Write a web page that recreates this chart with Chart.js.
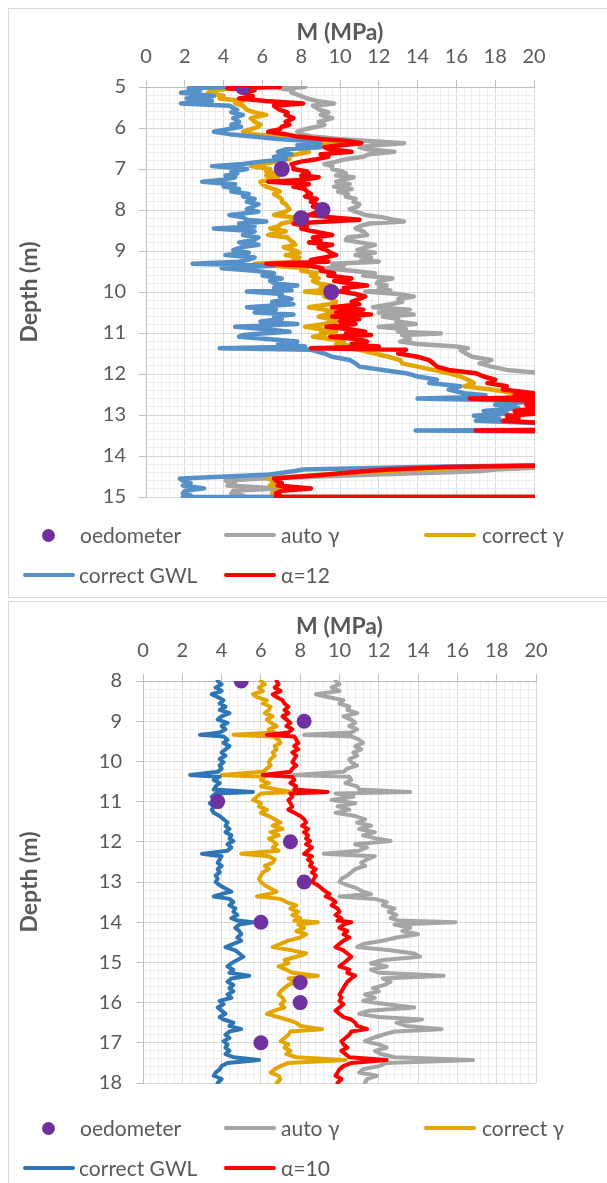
<!DOCTYPE html>
<html>
<head>
<meta charset="utf-8">
<script src="https://cdn.jsdelivr.net/npm/chart.js@4.4.1/dist/chart.umd.min.js"></script>
<style>
  body { margin: 0; background: #fff; width: 607px; height: 1183px; overflow: hidden; position: relative;
         font-family: Lato, "Open Sans", sans-serif; color: #595959; }
  .panel { position: absolute; border: 1px solid #d9d9d9; box-sizing: border-box; background: #fff; }
  canvas { position: absolute; }
  .lg-line { position: absolute; height: 4px; border-radius: 2px; }
  .lg-dot { position: absolute; width: 13px; height: 13px; border-radius: 50%; background: #7030a0; }
  .lg-text { position: absolute; font-size: 21px; line-height: 24px; white-space: nowrap; color: #595959; }
</style>
</head>
<body>
<div class="panel" style="left:8px; top:8px; width:610px; height:590px;"></div>
<div class="panel" style="left:8px; top:601px; width:610px; height:600px;"></div>
<canvas id="topChart" width="598" height="588" style="left:9px; top:9px;"></canvas>
<canvas id="bottomChart" width="598" height="581" style="left:9px; top:602px;"></canvas>
<script>
// ---- top chart (depth 5-15 m), alpha = 12 ----
const topDepth = [
  5.00, 5.03, 5.08, 5.14, 5.22, 5.28, 5.34, 5.40, 5.46, 5.56,
  5.62, 5.68, 5.76, 5.85, 5.92, 5.97, 6.03, 6.09, 6.15, 6.21,
  6.27, 6.32, 6.37, 6.42, 6.47, 6.52, 6.58, 6.64, 6.70, 6.76,
  6.82, 6.88, 6.93, 7.00, 7.06, 7.11, 7.16, 7.20, 7.26, 7.31,
  7.37, 7.43, 7.49, 7.55, 7.61, 7.67, 7.73, 7.80, 7.86, 7.92,
  7.98, 8.04, 8.12, 8.18, 8.24, 8.28, 8.33, 8.40, 8.45, 8.52,
  8.61, 8.67, 8.73, 8.79, 8.85, 8.91, 8.98, 9.04, 9.10, 9.16,
  9.22, 9.26, 9.31, 9.36, 9.42, 9.48, 9.54, 9.60, 9.67, 9.73,
  9.79, 9.84, 9.90, 9.96, 9.99, 10.05, 10.11, 10.17, 10.24, 10.30,
  10.37, 10.43, 10.50, 10.55, 10.60, 10.66, 10.72, 10.78, 10.85, 10.91,
  10.97, 11.01, 11.05, 11.09, 11.15, 11.21, 11.27, 11.33, 11.37, 11.41,
  11.50, 11.58, 11.66, 11.74, 11.82, 11.90, 11.98, 12.06, 12.14, 12.22,
  12.30, 12.38, 12.47, 12.52, 12.57, 12.60, 12.66, 12.75, 12.83, 12.90,
  12.96, 13.02, 13.08, 13.14, 13.20, 13.36, 13.38, 13.40, 13.80, 14.22,
  14.27, 14.33, 14.37, 14.46, 14.55, 14.60, 14.66, 14.72, 14.79, 14.85,
  14.91, 14.96, 15.00, 15.00
];
const topAutoGamma = [
  8.2, 6.9, 7.6, 7.5, 8.0, 8.3, 8.8, 9.7, 8.6, 9.0,
  9.4, 9.0, 9.6, 8.9, 9.2, 8.8, 8.2, 7.8, 8.0, 8.6,
  9.9, 11.5, 13.3, 11.8, 11.0, 11.4, 12.8, 11.5, 11.2, 10.3,
  9.8, 9.2, 9.6, 9.6, 10.1, 10.3, 9.8, 10.7, 10.2, 9.8,
  10.5, 9.7, 10.6, 9.9, 10.4, 10.3, 10.8, 10.7, 11.0, 10.9,
  10.5, 10.8, 11.3, 12.2, 12.8, 13.3, 11.5, 11.0, 10.8, 11.2,
  11.4, 10.4, 10.3, 11.0, 11.8, 11.3, 10.9, 11.8, 10.8, 11.6,
  11.1, 12.0, 9.6, 10.2, 9.3, 10.6, 11.8, 11.2, 12.7, 12.0,
  11.9, 12.4, 12.0, 12.6, 11.3, 13.0, 13.8, 13.0, 13.2, 12.6,
  11.7, 13.6, 12.0, 13.8, 12.2, 13.0, 12.9, 13.9, 12.0, 13.4,
  13.0, 15.2, 13.2, 13.4, 13.6, 13.1, 14.0, 16.0, 16.6, 16.2,
  16.5, 16.8, 17.8, 17.2, 17.8, 18.6, 20.5, 21.0, 22.0, 22.0,
  23.0, 23.0, 24.0, 24.0, 24.0, 24.0, 24.0, 24.0, 24.0, 24.0,
  24.0, 24.0, 24.0, 24.0, 24.0, 25.0, 25.0, 25.0, 25.0, 22.0,
  21.0, 18.0, 17.2, 11.5, 6.0, 4.1, 4.6, 4.2, 6.8, 4.5,
  4.4, 5.0, 4.4, 25.0
];
const topCorrectGamma = [
  5.0, 4.4, 3.6, 3.2, 4.0, 3.8, 5.0, 4.6, 5.0, 5.2,
  5.6, 6.2, 5.4, 5.6, 5.9, 5.8, 5.4, 5.0, 5.5, 6.8,
  8.4, 9.5, 10.0, 9.0, 8.2, 8.0, 8.4, 7.8, 7.0, 7.4,
  6.8, 6.0, 5.4, 6.4, 6.2, 6.7, 6.2, 6.8, 6.4, 5.9,
  6.0, 6.2, 6.6, 6.9, 6.6, 6.8, 7.0, 7.0, 7.2, 7.3,
  7.4, 7.2, 6.6, 7.6, 7.5, 7.5, 7.0, 6.8, 6.4, 7.2,
  6.3, 7.3, 7.4, 7.6, 7.7, 7.1, 7.6, 7.9, 7.2, 7.9,
  7.6, 7.9, 5.6, 6.6, 8.3, 8.0, 8.8, 8.5, 8.9, 8.6,
  8.9, 9.5, 9.0, 9.2, 8.2, 9.4, 9.2, 9.6, 9.8, 9.4,
  8.4, 9.2, 9.8, 9.3, 8.9, 9.5, 9.8, 9.2, 8.2, 9.0,
  9.8, 9.0, 9.2, 8.6, 9.6, 10.2, 9.8, 10.8, 10.5, 11.0,
  11.8, 12.5, 13.1, 13.2, 14.0, 14.8, 15.6, 16.2, 16.6, 16.9,
  16.4, 17.8, 19.0, 19.6, 18.6, 20.4, 21.0, 21.0, 21.0, 20.8,
  21.0, 20.6, 21.0, 20.8, 21.0, 23.0, 23.0, 23.0, 24.0, 22.0,
  17.0, 14.0, 12.0, 9.0, 6.3, 6.5, 6.6, 6.4, 8.2, 6.8,
  6.5, 6.7, 6.6, 25.0
];
const topCorrectGWL = [
  4.4, 2.2, 2.8, 1.8, 3.5, 2.1, 3.4, 1.8, 4.3, 4.7,
  4.4, 5.0, 4.5, 4.8, 4.4, 4.9, 4.2, 3.5, 4.3, 5.5,
  6.8, 8.5, 9.0, 7.8, 9.0, 7.2, 6.8, 7.5, 6.6, 7.2,
  5.9, 5.0, 3.4, 5.2, 4.4, 4.7, 4.1, 4.6, 4.0, 2.9,
  4.6, 4.0, 4.8, 4.4, 5.3, 5.0, 5.6, 5.2, 5.8, 5.5,
  5.2, 5.8, 4.3, 5.0, 5.2, 6.2, 4.8, 5.6, 3.5, 5.6,
  5.0, 5.8, 5.6, 4.8, 5.8, 4.9, 4.5, 5.3, 4.1, 5.6,
  5.2, 4.8, 2.4, 6.6, 3.9, 5.6, 6.6, 6.0, 7.0, 6.4,
  6.6, 7.8, 6.6, 7.5, 5.2, 7.0, 6.9, 7.5, 6.5, 7.6,
  5.2, 6.7, 5.6, 7.6, 6.6, 7.0, 5.9, 7.8, 4.6, 6.2,
  7.4, 6.0, 5.0, 4.8, 6.4, 7.8, 6.8, 8.2, 3.8, 8.5,
  9.2, 9.6, 10.5, 10.8, 11.0, 12.2, 13.4, 14.0, 15.0, 14.6,
  16.2, 15.6, 16.4, 17.5, 16.8, 14.0, 20.2, 18.0, 19.2, 17.4,
  18.6, 16.9, 18.2, 17.0, 20.4, 22.0, 13.9, 22.0, 24.0, 21.0,
  14.0, 8.1, 7.6, 6.2, 1.75, 1.9, 2.3, 1.9, 3.0, 2.0,
  1.9, 2.3, 1.9, 25.0
];
const topAlpha12 = [
  6.9, 4.2, 5.6, 5.0, 5.5, 4.8, 6.2, 8.1, 6.6, 6.9,
  7.3, 7.2, 7.6, 7.2, 7.4, 7.0, 6.9, 6.3, 7.2, 7.8,
  9.0, 10.5, 11.1, 10.0, 9.2, 9.5, 10.6, 9.0, 9.4, 8.8,
  8.0, 7.5, 7.6, 7.6, 8.3, 8.4, 8.0, 8.9, 8.2, 6.3,
  8.4, 7.6, 8.2, 8.3, 8.5, 8.2, 8.8, 8.5, 8.8, 8.6,
  9.0, 8.9, 8.4, 9.6, 11.0, 9.4, 7.6, 8.3, 8.0, 8.6,
  9.6, 8.6, 9.0, 8.4, 9.6, 8.9, 9.3, 9.5, 9.8, 9.2,
  8.5, 9.4, 6.2, 8.4, 9.1, 9.0, 9.7, 9.4, 10.6, 9.7,
  10.5, 11.4, 10.2, 10.4, 10.0, 10.8, 11.3, 11.0, 10.6, 11.0,
  9.6, 11.2, 9.8, 11.6, 9.6, 11.0, 10.0, 10.8, 9.3, 10.5,
  11.3, 10.3, 11.6, 9.5, 11.0, 11.4, 10.6, 12.0, 8.5, 13.4,
  13.0, 14.0, 14.6, 14.8, 15.0, 15.6, 17.0, 17.4, 18.0, 17.6,
  18.6, 18.4, 20.0, 19.0, 20.2, 16.7, 20.4, 19.6, 20.2, 19.0,
  20.4, 18.6, 19.2, 18.4, 20.6, 22.0, 17.0, 22.0, 24.0, 22.0,
  15.5, 12.5, 11.2, 9.2, 6.6, 6.7, 7.0, 6.8, 8.5, 7.0,
  6.7, 6.9, 6.7, 25.0
];
const topOedDepth = [5.0, 7.0, 8.0, 8.2, 10.0];
const topOedM = [5.0, 7.0, 9.1, 8.0, 9.55];

// ---- bottom chart (depth 8-18 m), alpha = 10 ----
const botDepth = [
  8.00, 8.08, 8.16, 8.25, 8.33, 8.40, 8.48, 8.56, 8.64, 8.72,
  8.80, 8.88, 8.96, 9.04, 9.12, 9.20, 9.28, 9.34, 9.38, 9.46,
  9.54, 9.62, 9.70, 9.78, 9.86, 9.94, 10.02, 10.10, 10.18, 10.26,
  10.34, 10.38, 10.46, 10.54, 10.62, 10.70, 10.76, 10.80, 10.88, 10.96,
  11.04, 11.12, 11.20, 11.28, 11.36, 11.44, 11.52, 11.60, 11.68, 11.76,
  11.84, 11.92, 11.98, 12.06, 12.14, 12.22, 12.30, 12.36, 12.44, 12.52,
  12.60, 12.68, 12.76, 12.84, 12.92, 13.00, 13.08, 13.16, 13.24, 13.30,
  13.36, 13.42, 13.50, 13.58, 13.66, 13.74, 13.82, 13.90, 13.96, 14.00,
  14.06, 14.14, 14.22, 14.30, 14.38, 14.46, 14.54, 14.62, 14.70, 14.78,
  14.86, 14.94, 15.02, 15.10, 15.18, 15.26, 15.33, 15.40, 15.48, 15.56,
  15.64, 15.72, 15.80, 15.88, 15.96, 16.04, 16.12, 16.20, 16.28, 16.36,
  16.42, 16.50, 16.58, 16.66, 16.72, 16.80, 16.88, 16.96, 17.04, 17.12,
  17.20, 17.28, 17.36, 17.43, 17.50, 17.58, 17.66, 17.74, 17.82, 17.90,
  18.00
];
const botAutoGamma = [
  9.8, 10.0, 9.6, 10.0, 8.8, 9.4, 10.2, 10.0, 10.5, 10.4,
  10.9, 10.2, 10.6, 10.8, 10.5, 10.9, 10.6, 8.2, 10.6, 11.0,
  11.2, 10.8, 11.1, 10.7, 10.9, 10.5, 10.6, 10.9, 10.4, 10.2,
  7.7, 10.5, 10.6, 10.3, 10.9, 11.0, 13.6, 9.8, 10.7, 9.6,
  10.8, 9.9, 10.5, 9.8, 10.8, 11.3, 10.9, 11.6, 11.0, 11.8,
  11.2, 11.9, 12.6, 10.8, 11.4, 11.0, 9.2, 11.8, 11.4, 11.1,
  11.3, 10.8, 10.6, 10.4, 10.1, 10.0, 10.4, 10.9, 11.2, 11.6,
  10.0, 11.8, 12.4, 12.2, 12.8, 12.5, 12.9, 12.6, 13.0, 15.9,
  12.8, 13.6, 13.2, 14.0, 12.9, 12.2, 11.2, 10.9, 12.6, 13.8,
  14.1, 12.2, 11.6, 12.4, 11.6, 12.0, 15.3, 12.2, 12.6, 12.3,
  11.7, 12.0, 11.3, 11.8, 11.2, 12.4, 13.8, 11.5, 11.0, 12.0,
  14.2, 12.9, 13.4, 15.2, 12.8, 12.2, 11.7, 11.3, 12.0, 12.4,
  11.8, 12.1, 12.8, 16.8, 12.4, 12.0, 11.2, 11.0, 11.9, 11.4,
  11.3
];
const botCorrectGamma = [
  6.0, 6.2, 5.9, 6.1, 5.6, 5.8, 6.3, 6.1, 6.5, 6.4,
  6.2, 6.6, 6.3, 6.5, 6.8, 6.4, 6.7, 4.6, 6.6, 6.9,
  7.0, 6.7, 6.8, 6.6, 6.7, 6.5, 6.4, 6.5, 6.3, 6.1,
  4.0, 6.2, 6.0, 6.4, 6.0, 6.8, 7.6, 6.0, 5.8, 5.6,
  6.0, 5.9, 6.3, 6.0, 6.4, 6.7, 7.0, 6.6, 7.1, 6.5,
  6.9, 6.4, 6.6, 6.8, 6.6, 6.9, 5.0, 6.4, 6.7, 6.6,
  6.2, 6.4, 6.1, 6.0, 5.9, 6.0, 6.2, 6.5, 6.8, 6.4,
  5.8, 7.0, 7.3, 7.8, 7.5, 7.9, 7.6, 8.0, 7.7, 8.9,
  7.9, 8.2, 7.8, 8.3, 8.0, 7.4, 7.0, 6.6, 7.6, 8.3,
  7.8, 7.2, 7.4, 6.9, 7.3, 7.6, 8.9, 7.4, 7.8, 7.4,
  7.2, 7.0, 6.9, 7.1, 7.2, 7.0, 7.2, 6.7, 6.3, 6.9,
  7.3, 7.8, 8.0, 9.1, 7.5, 7.4, 7.2, 7.0, 7.4, 7.2,
  7.5, 7.3, 7.8, 10.3, 7.4, 7.0, 6.7, 6.5, 6.9, 7.0,
  6.8
];
const botCorrectGWL = [
  3.8, 4.0, 3.7, 4.0, 3.5, 3.8, 4.1, 3.9, 4.2, 3.9,
  4.4, 4.0, 3.8, 4.3, 4.0, 4.2, 3.9, 2.9, 4.1, 4.3,
  4.1, 4.4, 4.2, 4.0, 4.2, 3.9, 4.1, 3.9, 4.0, 3.8,
  2.4, 3.9, 3.6, 3.9, 3.7, 3.6, 5.6, 3.7, 3.5, 3.8,
  3.4, 3.6, 3.5, 3.6, 3.9, 4.1, 4.3, 4.2, 4.4, 4.2,
  4.5, 4.4, 4.6, 4.3, 4.5, 4.3, 3.0, 4.0, 3.9, 3.8,
  4.0, 3.8, 3.9, 3.7, 3.8, 3.7, 3.9, 4.2, 4.5, 4.0,
  3.6, 4.4, 4.6, 4.4, 4.7, 4.6, 4.8, 4.5, 4.8, 5.6,
  4.9, 4.7, 4.9, 5.0, 4.8, 5.0, 4.6, 4.2, 4.7, 4.9,
  5.1, 4.8, 4.5, 4.3, 4.6, 4.4, 5.4, 4.5, 4.3, 4.6,
  4.4, 4.6, 4.3, 4.5, 3.9, 4.1, 3.8, 4.0, 4.2, 3.9,
  4.1, 4.6, 4.4, 5.0, 4.4, 4.2, 4.4, 4.1, 4.3, 4.2,
  4.4, 4.2, 4.6, 5.9, 4.3, 4.0, 3.9, 3.7, 3.6, 4.0,
  3.8
];
const botAlpha10 = [
  6.8, 6.9, 6.7, 7.0, 6.6, 6.8, 7.1, 7.2, 7.4, 7.2,
  7.4, 7.1, 7.3, 7.5, 7.3, 7.6, 7.4, 6.3, 7.7, 7.8,
  7.9, 7.7, 7.9, 7.6, 7.8, 7.7, 7.6, 7.8, 7.6, 7.5,
  6.1, 7.6, 7.7, 7.5, 7.8, 7.7, 9.4, 7.5, 7.6, 7.4,
  7.5, 7.6, 7.4, 7.7, 8.0, 8.2, 8.3, 8.1, 8.4, 8.2,
  8.4, 8.3, 8.5, 8.3, 8.6, 8.4, 8.2, 8.6, 8.4, 8.6,
  8.5, 8.8, 8.6, 8.8, 8.7, 8.6, 8.9, 9.1, 9.3, 9.5,
  9.3, 9.6, 9.8, 9.6, 9.9, 10.0, 9.8, 10.1, 9.9, 10.6,
  10.2, 10.0, 10.4, 10.2, 10.5, 10.2, 10.0, 9.8, 10.2, 10.4,
  10.6, 10.4, 10.2, 10.0, 10.5, 10.4, 10.8, 10.6, 10.4, 10.3,
  10.2, 10.1, 10.0, 10.1, 10.0, 10.2, 10.0, 9.8, 10.0, 10.2,
  10.6, 10.8, 10.9, 11.4, 10.6, 10.5, 10.3, 10.1, 10.2, 10.4,
  10.1, 10.3, 10.5, 12.4, 10.6, 10.2, 10.0, 9.9, 9.8, 10.1,
  9.9
];
const botOedDepth = [8.0, 9.0, 11.0, 12.0, 13.0, 14.0, 15.5, 16.0, 17.0];
const botOedM = [5.0, 8.2, 3.8, 7.5, 8.2, 6.0, 8.0, 8.0, 6.0];

const legendNames = ["oedometer", "auto \u03b3", "correct \u03b3", "correct GWL"];

const TXT = "#595959";
const GRAY = "#a5a5a5", GOLD = "#e3a600", RED = "#ff0000", PURPLE = "#7030a0";

Chart.defaults.font.family = "Lato, 'Open Sans', sans-serif";

function pts(depths, vals) {
    return depths.map((d, i) => ({ x: vals[i], y: d }));
}
function isStep(v, step) {
    const r = v / step;
    return Math.abs(r - Math.round(r)) < 1e-6;
}

function lineSet(label, depths, vals, color, width, order) {
    return {
        label: label,
        data: pts(depths, vals),
        showLine: true,
        borderColor: color,
        backgroundColor: color,
        borderWidth: width,
        borderJoinStyle: "round",
        borderCapStyle: "round",
        pointRadius: 0,
        tension: 0,
        clip: 1,
        order: order
    };
}

function makeChart(id, p) {
    const ctx = document.getElementById(id).getContext("2d");
    new Chart(ctx, {
        type: "scatter",
        data: {
            datasets: [
                {
                    label: legendNames[0],
                    data: pts(p.oedDepth, p.oedM),
                    pointRadius: p.dot,
                    pointBackgroundColor: PURPLE,
                    pointBorderWidth: 0,
                    showLine: false,
                    order: 0
                },
                lineSet(legendNames[1], p.depth, p.auto, GRAY, p.lw, 4),
                lineSet(legendNames[2], p.depth, p.corr, GOLD, p.lw, 3),
                lineSet(legendNames[3], p.depth, p.gwl, p.blue, p.lw, 2),
                lineSet(p.alphaLabel, p.depth, p.alpha, RED, p.lw, 1)
            ]
        },
        options: {
            responsive: false,
            animation: false,
            devicePixelRatio: 1,
            layout: { padding: { left: 0, top: 0, right: p.padRight, bottom: 100 } },
            plugins: { legend: { display: false }, tooltip: { enabled: false } },
            scales: {
                x: {
                    type: "linear",
                    position: "top",
                    min: 0,
                    max: 20,
                    afterFit: s => { s.height = p.axisH; },
                    ticks: {
                        stepSize: 0.4,
                        autoSkip: false,
                        maxRotation: 0,
                        padding: p.xTickPad,
                        color: TXT,
                        font: { size: 20 },
                        callback: v => isStep(v, 2) ? String(Math.round(v)) : ""
                    },
                    grid: {
                        color: c => isStep(c.tick.value, 2) ? "#d9d9d9" : "#eeeeee",
                        tickColor: c => isStep(c.tick.value, 2) ? "#bfbfbf" : "rgba(0,0,0,0)",
                        tickLength: 7
                    },
                    border: { color: "#bfbfbf" },
                    title: {
                        display: true,
                        text: "M (MPa)",
                        color: TXT,
                        font: { size: 23, weight: "bold" },
                        padding: { top: p.xTitlePad, bottom: 0 }
                    }
                },
                y: {
                    type: "linear",
                    reverse: true,
                    min: p.yMin,
                    max: p.yMax,
                    afterFit: s => { s.width = p.axisW; },
                    ticks: {
                        stepSize: 0.2,
                        autoSkip: false,
                        padding: p.yTickPad,
                        color: TXT,
                        font: { size: 20 },
                        callback: v => isStep(v, 1) ? String(Math.round(v)) : ""
                    },
                    grid: {
                        color: c => isStep(c.tick.value, 1) ? "#d9d9d9" : "#eeeeee",
                        tickColor: c => isStep(c.tick.value, 1) ? "#bfbfbf" : "rgba(0,0,0,0)",
                        tickLength: 7
                    },
                    border: { color: "#bfbfbf" },
                    title: {
                        display: true,
                        text: "Depth (m)",
                        color: TXT,
                        font: { size: 23, weight: "bold" },
                        padding: { top: 7, bottom: 0 }
                    }
                }
            }
        }
    });
}

function addLegend(row1, row2, alphaLabel, blue) {
    const items = [
        { kind: "dot", x: 42, y: row1, color: PURPLE, text: legendNames[0], tx: 80 },
        { kind: "line", x: 224, y: row1, color: GRAY, text: legendNames[1], tx: 281 },
        { kind: "line", x: 424, y: row1, color: GOLD, text: legendNames[2], tx: 482 },
        { kind: "line", x: 23, y: row2, color: blue, text: legendNames[3], tx: 79 },
        { kind: "line", x: 224, y: row2, color: RED, text: alphaLabel, tx: 281 }
    ];
    items.forEach(it => {
        const mark = document.createElement("div");
        if (it.kind === "dot") {
            mark.className = "lg-dot";
            mark.style.left = it.x + "px";
            mark.style.top = (it.y - 6) + "px";
        } else {
            mark.className = "lg-line";
            mark.style.left = it.x + "px";
            mark.style.width = "52px";
            mark.style.top = (it.y - 2) + "px";
            mark.style.background = it.color;
        }
        document.body.appendChild(mark);
        const t = document.createElement("div");
        t.className = "lg-text";
        t.textContent = it.text;
        t.style.left = it.tx + "px";
        t.style.top = (it.y - 12) + "px";
        document.body.appendChild(t);
    });
}

makeChart("topChart", {
    depth: topDepth, auto: topAutoGamma, corr: topCorrectGamma, gwl: topCorrectGWL, alpha: topAlpha12,
    oedDepth: topOedDepth, oedM: topOedM, yMin: 5, yMax: 15,
    blue: "#5591c8", alphaLabel: "\u03b1=12", lw: 4.5, dot: 8,
    axisW: 137, axisH: 78, padRight: 73, xTitlePad: 10, xTickPad: 11, yTickPad: 13
});
makeChart("bottomChart", {
    depth: botDepth, auto: botAutoGamma, corr: botCorrectGamma, gwl: botCorrectGWL, alpha: botAlpha10,
    oedDepth: botOedDepth, oedM: botOedM, yMin: 8, yMax: 18,
    blue: "#2e75b6", alphaLabel: "\u03b1=10", lw: 4, dot: 7.5,
    axisW: 134, axisH: 79, padRight: 71, xTitlePad: 11, xTickPad: 11, yTickPad: 14
});

addLegend(535, 575, "\u03b1=12", "#5591c8");
addLegend(1128, 1168, "\u03b1=10", "#2e75b6");
</script>
</body>
</html>
